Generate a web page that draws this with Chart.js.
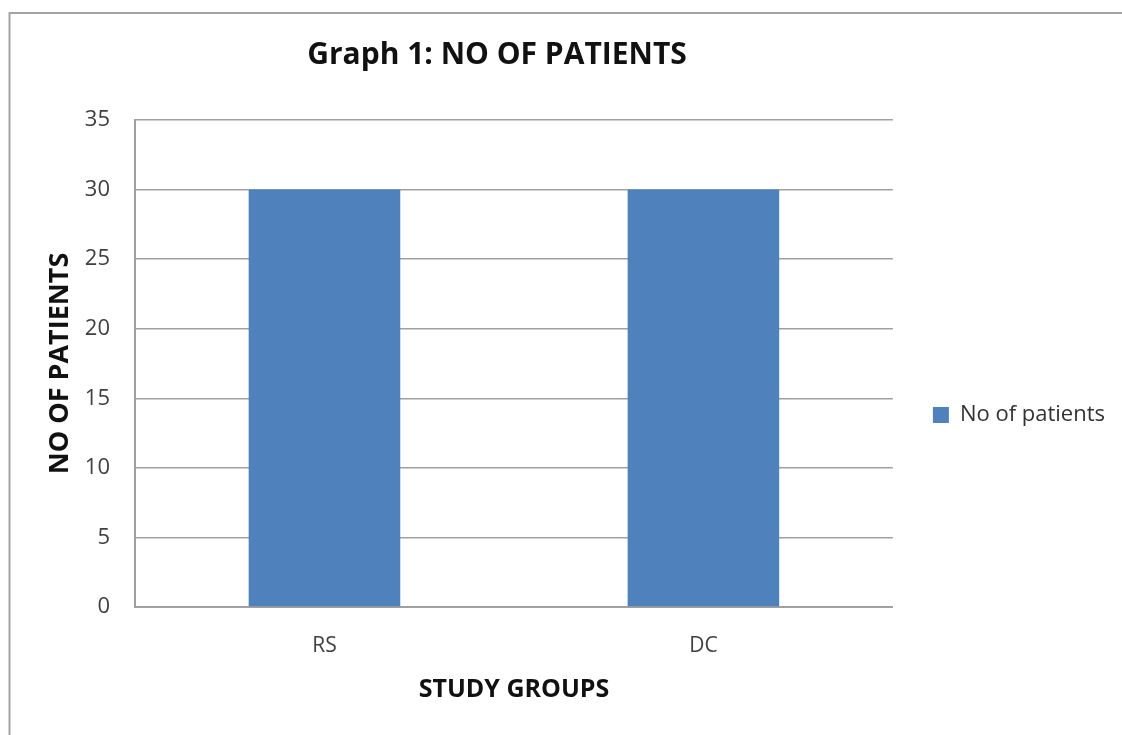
<!DOCTYPE html>
<html>
<head>
<meta charset="utf-8">
<title>Graph 1: NO OF PATIENTS</title>
<script src="https://cdn.jsdelivr.net/npm/chart.js@4.4.1/dist/chart.umd.min.js"></script>
<style>
  html, body { margin: 0; padding: 0; background: #ffffff; overflow: hidden; }
  #wrap { width: 1122px; height: 735px; position: relative; }
</style>
</head>
<body>
<div id="wrap"><canvas id="chart" width="1122" height="735"></canvas></div>
<script>
// Study groups and patient counts
const groups = ['RS', 'DC'];
const patientCounts = [30, 30];
const seriesName = 'No of patients';
const chartTitle = 'Graph 1: NO OF PATIENTS';
const xAxisTitle = 'STUDY GROUPS';
const yAxisTitle = 'NO OF PATIENTS';
const yMin = 0, yMax = 35, yStep = 5;

const FONT = "'Open Sans', 'DejaVu Sans', sans-serif";

// Outer frame and heading text
const frameAndHeading = {
  id: 'frameAndHeading',
  beforeDraw(chart) {
    const ctx = chart.ctx;
    ctx.save();
    ctx.fillStyle = '#ffffff';
    ctx.fillRect(0, 0, chart.width, chart.height);
    ctx.strokeStyle = '#a3a3a3';
    ctx.lineWidth = 2;
    ctx.beginPath();
    ctx.moveTo(9.5, chart.height + 10);
    ctx.lineTo(9.5, 13);
    ctx.lineTo(chart.width + 10, 13);
    ctx.stroke();
    ctx.restore();
  },
  afterDraw(chart) {
    const ctx = chart.ctx;
    ctx.save();
    ctx.font = 'bold 30px ' + FONT;
    ctx.fillStyle = '#111111';
    ctx.textAlign = 'center';
    ctx.textBaseline = 'middle';
    ctx.fillText(chartTitle, 497, 55);
    ctx.restore();
  }
};

new Chart(document.getElementById('chart'), {
  type: 'bar',
  data: {
    labels: groups,
    datasets: [{
      label: seriesName,
      data: patientCounts,
      backgroundColor: '#4F81BD',
      borderWidth: 0,
      barPercentage: 0.4,
      categoryPercentage: 1.0
    }]
  },
  options: {
    responsive: false,
    animation: false,
    devicePixelRatio: 1,
    layout: { padding: { top: 120, left: 0, right: 7, bottom: 25 } },
    plugins: {
      title: { display: false },
      tooltip: { enabled: false },
      legend: {
        position: 'right',
        labels: {
          boxWidth: 16,
          boxHeight: 16,
          padding: 40,
          color: '#333333',
          font: { family: FONT, size: 22 }
        }
      }
    },
    scales: {
      x: {
        grid: { display: false, drawTicks: false },
        border: { display: true, color: '#a0a0a0', width: 2 },
        ticks: { color: '#404040', padding: 26, font: { family: FONT, size: 21 } },
        title: {
          display: true, text: xAxisTitle, color: '#111111',
          font: { family: FONT, size: 25, weight: 'bold' },
          padding: { top: 4, bottom: 5 }
        },
        afterFit(scale) { scale.height = 103; }
      },
      y: {
        min: yMin, max: yMax,
        grid: { color: '#a0a0a0', lineWidth: 1.5, drawTicks: false },
        border: { display: true, color: '#a0a0a0', width: 2 },
        ticks: { stepSize: yStep, color: '#404040', padding: 25, font: { family: FONT, size: 22 } },
        title: {
          display: true, text: yAxisTitle, color: '#111111',
          font: { family: FONT, size: 27, weight: 'bold' },
          padding: { top: 44, bottom: 4 }
        },
        afterFit(scale) { scale.width = 135; }
      }
    }
  },
  plugins: [frameAndHeading]
});
</script>
</body>
</html>
